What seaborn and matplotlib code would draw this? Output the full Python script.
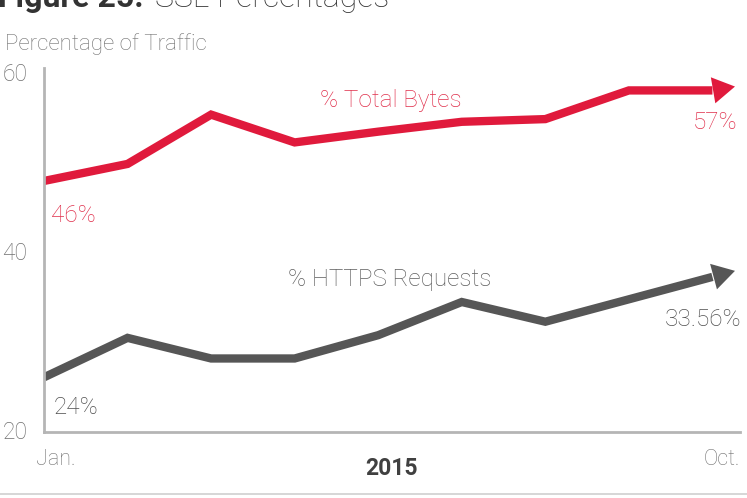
import numpy as np
import pandas as pd
import matplotlib
matplotlib.use("Agg")
import matplotlib.pyplot as plt
import seaborn as sns
from matplotlib.lines import Line2D

# ---- data ----
month_idx = [0, 1, 2, 3, 4, 5, 6, 7, 8]
total_bytes = [47.8, 49.7, 55.2, 52.1, 53.3, 54.4, 54.7, 57.9, 57.9]
https_requests = [25.9, 30.3, 28.0, 28.0, 30.6, 34.3, 32.1, 34.6, 37.1]
series_names = ["% Total Bytes", "% HTTPS Requests"]
first_labels = ["46%", "24%"]
last_labels = ["57%", "33.56%"]
x_labels = ["Jan.", "Oct."]
year_label = "2015"
y_ticks = [20, 40, 60]

RED = "#e01a3c"
GRAY = "#565656"
RED_TXT = "#e0304c"
GRAY_TXT = "#5e5e5e"
AXIS = "#b5b5b5"

sns.set_style("white")
plt.rcParams["font.family"] = ["Roboto", "DejaVu Sans"]

df = pd.DataFrame({
    "x": month_idx * 2,
    "value": total_bytes + https_requests,
    "series": [series_names[0]] * len(month_idx) + [series_names[1]] * len(month_idx),
})

fig = plt.figure(figsize=(7.47, 4.98), dpi=100)
ax = fig.add_axes([44 / 747, 1 - 432 / 498, (740 - 44) / 747, (432 - 68) / 498])

sns.lineplot(data=df, x="x", y="value", hue="series",
             palette={series_names[0]: RED, series_names[1]: GRAY},
             linewidth=6.0, legend=False, ax=ax, sort=False)
for ln in ax.lines:
    ln.set_solid_joinstyle("miter")
    ln.set_solid_capstyle("butt")

ax.set_xlim(0, 8.33)
ax.set_ylim(19.8, 60.4)


def add_arrow(xs, ys, color):
    # arrow head continuing the direction of the final stretch of the series
    dx = xs[-1] - xs[-3]
    dy = ys[-1] - ys[-3]
    ext = 0.27
    tip = (xs[-1] + ext, ys[-1] + dy / dx * ext)
    start = (xs[-1] - 0.05, ys[-1] - dy / dx * 0.05)
    ax.annotate("", xy=tip, xytext=start,
                arrowprops=dict(arrowstyle="-|>,head_length=1.6,head_width=0.95",
                                mutation_scale=10, color=color, lw=0,
                                shrinkA=0, shrinkB=0))


add_arrow(month_idx, total_bytes, RED)
add_arrow(month_idx, https_requests, GRAY)

# spines
sns.despine(ax=ax, top=True, right=True)
for s in ["left", "bottom"]:
    ax.spines[s].set_color(AXIS)
    ax.spines[s].set_linewidth(2.0)

ax.set_yticks(y_ticks)
ax.set_yticklabels([str(t) for t in y_ticks], fontsize=16.5, color="#6e6e6e",
                   fontweight="light")
ax.tick_params(axis="y", length=0, pad=12)
ax.set_xticks([])
ax.set_xlabel("")
ax.set_ylabel("")

# series labels
ax.text(4.15, 56.8, series_names[0], color=RED_TXT, fontsize=17.5,
        ha="center", va="center", fontweight="light")
ax.text(4.14, 36.8, series_names[1], color=GRAY_TXT, fontsize=17.5,
        ha="center", va="center", fontweight="light")

# value labels
ax.annotate(first_labels[0], xy=(month_idx[0], total_bytes[0]), xytext=(5, -25),
            textcoords="offset points", ha="left", va="center",
            color=RED_TXT, fontsize=17.5, fontweight="light")
ax.annotate(first_labels[1], xy=(month_idx[0], https_requests[0]), xytext=(7, -22),
            textcoords="offset points", ha="left", va="center",
            color="#4e4e4e", fontsize=17.5, fontweight="light")
ax.annotate(last_labels[0], xy=(month_idx[-1], total_bytes[-1]), xytext=(18, -23),
            textcoords="offset points", ha="right", va="center",
            color=RED_TXT, fontsize=17.5, fontweight="light")
ax.annotate(last_labels[1], xy=(month_idx[-1], https_requests[-1]), xytext=(21, -31),
            textcoords="offset points", ha="right", va="center",
            color="#4e4e4e", fontsize=17.5, fontweight="light")

# x labels
ax.text(-0.012, -0.075, x_labels[0], transform=ax.transAxes, ha="left", va="center",
        fontsize=15.5, color="#707070", fontweight="light")
ax.text(1.0, -0.075, x_labels[1], transform=ax.transAxes, ha="right", va="center",
        fontsize=15.5, color="#707070", fontweight="light")
ax.text(0.5, -0.1, year_label, transform=ax.transAxes, ha="center", va="center",
        fontsize=16.5, color="#404040", fontweight="bold")

# y axis title
fig.text(5 / 747, 1 - 44 / 498, "Percentage of Traffic", ha="left", va="center",
         fontsize=16, color="#707070", fontweight="light")

# figure title (cut at top as in reference)
fig.text(-2 / 747, 1 - 7 / 498, "Figure 25.", ha="left", va="baseline",
         fontsize=23, color="#333333", fontweight="bold")
fig.text(155 / 747, 1 - 7 / 498, "SSL Percentages", ha="left", va="baseline",
         fontsize=23, color="#333333", fontweight="light")

# bottom rule
fig.add_artist(Line2D([0, 1], [1 - 494 / 498] * 2, transform=fig.transFigure,
                      color="#d0d0d0", lw=1.2))

fig.savefig("out.png", dpi=100)
